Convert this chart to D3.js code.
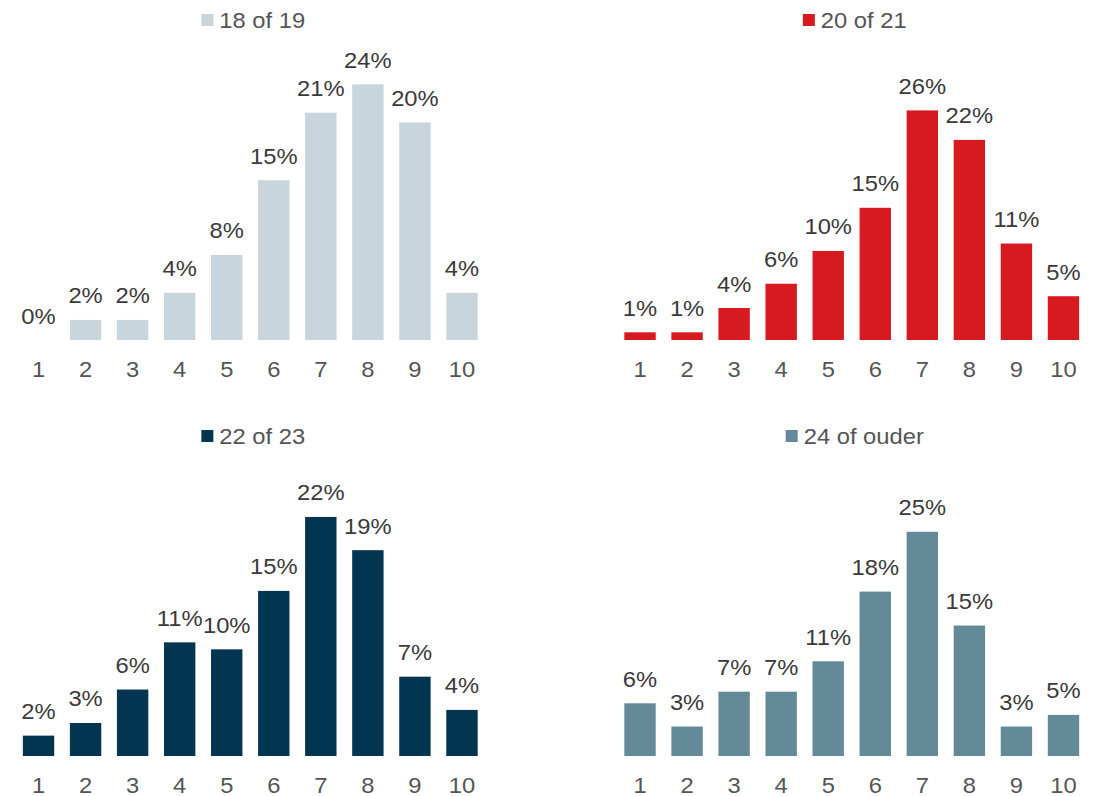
<!DOCTYPE html>
<html>
<head>
<meta charset="utf-8">
<script src="https://cdn.jsdelivr.net/npm/d3@7"></script>
<style>
  html, body { margin: 0; padding: 0; background: #ffffff; }
  svg { display: block; font-family: "Liberation Sans", Arial, sans-serif; }
</style>
</head>
<body>
<svg id="chart" width="1101" height="796"></svg>
<script>
// ---- data ----
const categories = ["1", "2", "3", "4", "5", "6", "7", "8", "9", "10"];
const seriesNames = ["18 of 19", "20 of 21", "22 of 23", "24 of ouder"];
const values18 = [0, 1.87, 1.87, 4.4, 7.93, 14.9, 21.2, 23.85, 20.3, 4.4];
const values20 = [0.86, 0.86, 3.58, 6.3, 9.97, 14.8, 25.7, 22.4, 10.8, 4.9];
const values22 = [1.9, 3.08, 6.2, 10.6, 9.95, 15.4, 22.3, 19.2, 7.4, 4.3];
const values24 = [5.9, 3.3, 7.2, 7.2, 10.6, 18.4, 25.1, 14.6, 3.3, 4.6];
const colors = ["#C9D5DC", "#D71920", "#02354F", "#648A99"];
const yMaxes = [25, 30, 25, 30];

// ---- layout ----
const panels = [
  { name: seriesNames[0], values: values18, color: colors[0], yMax: yMaxes[0], x0: 15, x1: 485.5, base: 340, top: 72, legendY: 14 },
  { name: seriesNames[1], values: values20, color: colors[1], yMax: yMaxes[1], x0: 616.5, x1: 1087, base: 340, top: 72, legendY: 14 },
  { name: seriesNames[2], values: values22, color: colors[2], yMax: yMaxes[2], x0: 15, x1: 485.5, base: 756, top: 488, legendY: 430 },
  { name: seriesNames[3], values: values24, color: colors[3], yMax: yMaxes[3], x0: 616.5, x1: 1087, base: 756, top: 488, legendY: 430 }
];

const svg = d3.select("#chart");
const SX = 1.08;
const FS = 22;

panels.forEach(p => {
  const g = svg.append("g");
  const x = d3.scaleBand().domain(categories).range([p.x0, p.x1])
    .paddingInner(0.333).paddingOuter(0.1665);
  const y = d3.scaleLinear().domain([0, p.yMax]).range([p.base, p.top]);
  const data = categories.map((c, i) => ({ c, v: p.values[i] }));

  // bars
  g.selectAll("rect.bar").data(data).join("rect")
    .attr("class", "bar")
    .attr("x", d => x(d.c))
    .attr("width", x.bandwidth())
    .attr("y", d => y(d.v))
    .attr("height", d => y(0) - y(d.v))
    .attr("fill", p.color);

  // value labels
  g.selectAll("text.val").data(data).join("text")
    .attr("class", "val")
    .attr("text-anchor", "middle")
    .attr("font-size", FS)
    .attr("fill", "#3a3a3a")
    .attr("transform", d => `translate(${x(d.c) + x.bandwidth() / 2},${y(d.v) - 16.5}) scale(${SX},1)`)
    .text(d => Math.round(d.v) + "%");

  // x axis (tick labels only)
  const axis = d3.axisBottom(x).tickSize(0).tickPadding(0);
  const ax = g.append("g").attr("transform", `translate(0,${p.base})`).call(axis);
  ax.select(".domain").remove();
  ax.selectAll(".tick text")
    .attr("font-size", FS)
    .attr("font-family", "Liberation Sans, Arial, sans-serif")
    .attr("fill", "#555555")
    .attr("dy", null)
    .attr("y", 0)
    .attr("transform", `translate(0,36.5) scale(${SX},1)`);

  // legend
  const lg = g.append("g");
  lg.append("rect").attr("width", 12).attr("height", 12).attr("y", p.legendY).attr("fill", p.color);
  const lt = lg.append("text")
    .attr("font-size", FS)
    .attr("fill", "#555555")
    .attr("transform", `translate(18,${p.legendY + 13.9}) scale(${SX},1)`)
    .text(p.name);
  const tw = lt.node().getComputedTextLength() * SX;
  const total = 18 + tw;
  const cx = (p.x0 + p.x1) / 2 + 3;
  lg.attr("transform", `translate(${cx - total / 2},0)`);
});
</script>
</body>
</html>
